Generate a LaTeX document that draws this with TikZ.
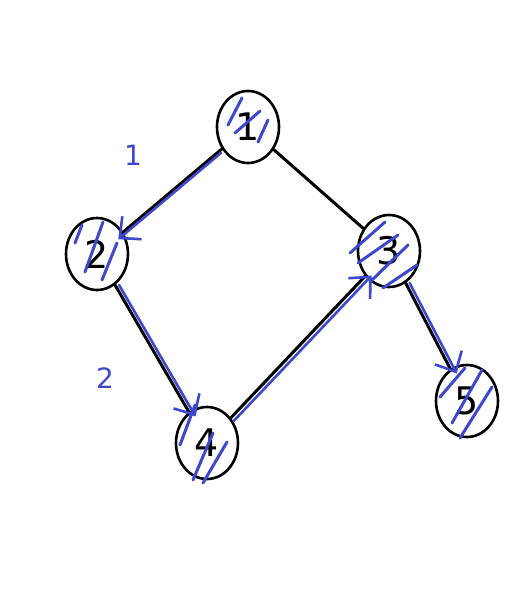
\documentclass[tikz,border=0pt]{standalone}
\usepackage{fontspec}
\setmainfont{DejaVu Sans}
\usetikzlibrary{shapes.geometric,arrows.meta}
\definecolor{pen}{RGB}{62,72,204}
\tikzset{
  vtx/.style={draw=black, line width=2.6pt, ellipse, minimum width=62pt, minimum height=72pt, inner sep=0pt, font=\fontsize{38}{38}\selectfont},
  edge/.style={draw=black, line width=3pt, line cap=round},
  hatch/.style={draw=pen, line width=3pt, line cap=round},
  walk/.style={draw=pen, line width=2.6pt, line cap=round, shorten >=-5pt, -{Straight Barb[length=16pt,width=30pt,line width=2.6pt]}},
  lbl/.style={text=pen, font=\fontsize{28}{28}\selectfont}
}
\begin{document}
\begin{tikzpicture}[x=1pt,y=-1pt]
\useasboundingbox (0,0) rectangle (528,600);
\node[vtx] (n1) at (248,127) {1};
\node[vtx] (n2) at (97,254) {2};
\node[vtx] (n3) at (389,251) {3};
\node[vtx] (n4) at (207,443) {4};
\node[vtx] (n5) at (467,401) {5};
% black edges
\draw[edge] (n1) -- (n2);
\draw[edge] (n1) -- (n3);
\draw[edge] (n2) -- (n4);
\draw[edge] (n4) -- (n3);
\draw[edge] (n3) -- (n5);
% blue walk arrows
\draw[walk, transform canvas={shift={(-1,4)}}] (n1) -- (n2);
\draw[walk, transform canvas={shift={(4,0)}}] (n2) -- (n4);
\draw[walk, transform canvas={shift={(3,3)}}] (n4) -- (n3);
\draw[walk, transform canvas={shift={(4,0)}}] (n3) -- (n5);
% hatching
\draw[hatch] (242,98) -- (228,125);
\draw[hatch] (260,111) -- (235,133);
\draw[hatch] (268,120) -- (258,142);
\draw[hatch] (82,225) -- (75,243);
\draw[hatch] (103,222) -- (85,272);
\draw[hatch] (117,243) -- (102,280);
\draw[hatch] (385,222) -- (350,253);
\draw[hatch] (398,235) -- (358,263);
\draw[hatch] (408,245) -- (370,282);
\draw[hatch] (417,265) -- (383,288);
\draw[hatch] (195,405) -- (180,445);
\draw[hatch] (213,433) -- (193,480);
\draw[hatch] (227,442) -- (203,483);
\draw[hatch] (465,368) -- (440,397);
\draw[hatch] (482,370) -- (452,423);
\draw[hatch] (492,387) -- (460,438);
% step labels
\node[lbl] (s1) at (133,155) {1};
\node[lbl] (s2) at (105,378) {2};
\end{tikzpicture}
\end{document}
